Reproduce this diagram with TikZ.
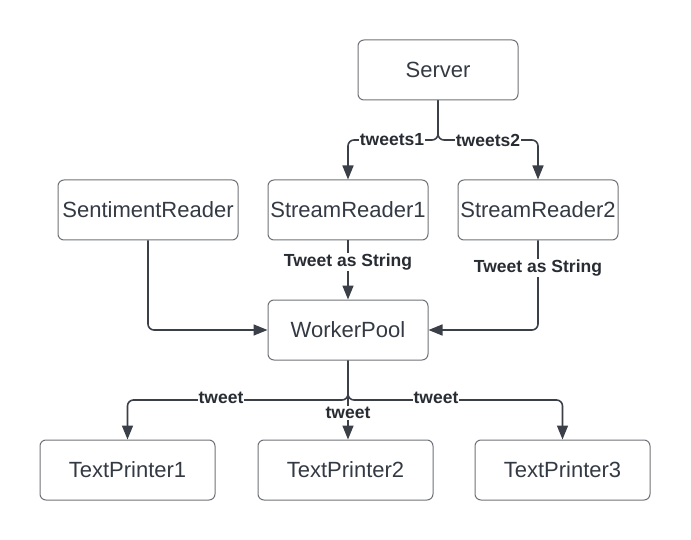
\documentclass[tikz,border=0pt]{standalone}
\usepackage{fontspec}
\setmainfont{Liberation Sans}
\usetikzlibrary{arrows.meta}
\definecolor{lin}{HTML}{3A3F48}
\definecolor{bord}{HTML}{6E7278}
\definecolor{txt}{HTML}{343A43}
\definecolor{lbl}{HTML}{282C33}
\begin{document}
\begin{tikzpicture}[x=1pt,y=-1pt,
  box/.style={draw=bord,line width=1pt,rounded corners=6pt,minimum height=60pt,inner sep=0pt,
    text=txt,font=\fontsize{22}{26}\selectfont},
  conn/.style={draw=lin,line width=1.6pt,rounded corners=6pt,-{Triangle[length=14pt,width=11pt]}},
  lab/.style={fill=white,inner sep=1pt,text=lbl,font=\fontsize{17.5}{20}\selectfont\bfseries}]
\useasboundingbox (0,0) rectangle (691,540);
\node[box,minimum width=160pt] (server) at (438,70) {Server};
\node[box,minimum width=160pt] (sr1) at (348,210) {StreamReader1};
\node[box,minimum width=160pt] (sr2) at (538,210) {StreamReader2};
\node[box,minimum width=180pt] (sent) at (148,210) {SentimentReader};
\node[box,minimum width=160pt] (wp) at (348,330) {WorkerPool};
\node[box,minimum width=175pt] (tp1) at (127.5,470) {TextPrinter1};
\node[box,minimum width=175pt] (tp2) at (345.5,470) {TextPrinter2};
\node[box,minimum width=175pt] (tp3) at (562.5,470) {TextPrinter3};
\coordinate (s1) at (438,140);
\coordinate (w1) at (348,400);
% Server to readers
\draw[conn] (server.south) -- (s1) -| (sr1.north);
\draw[conn] (server.south) -- (s1) -| (sr2.north);
\node[lab] at (392,140) {tweets1};
\node[lab] at (488,140) {tweets2};
% readers to worker pool
\draw[conn] (sr1.south) -- (wp.north);
\node[lab] at (348,262) {Tweet as String};
\draw[conn] (sr2.south) |- (wp.east);
\node[lab] at (538,268) {Tweet as String};
\draw[conn] (sent.south) |- (wp.west);
% worker pool to printers
\draw[conn] (wp.south) -- (w1) -| (tp1.north);
\draw[conn] (wp.south) -- (w1) -| (tp3.north);
\draw[conn] (wp.south) -- (wp.south |- tp2.north);
\node[lab] at (221,398) {tweet};
\node[lab] at (436,398) {tweet};
\node[lab] at (348,413) {tweet};
\end{tikzpicture}
\end{document}
